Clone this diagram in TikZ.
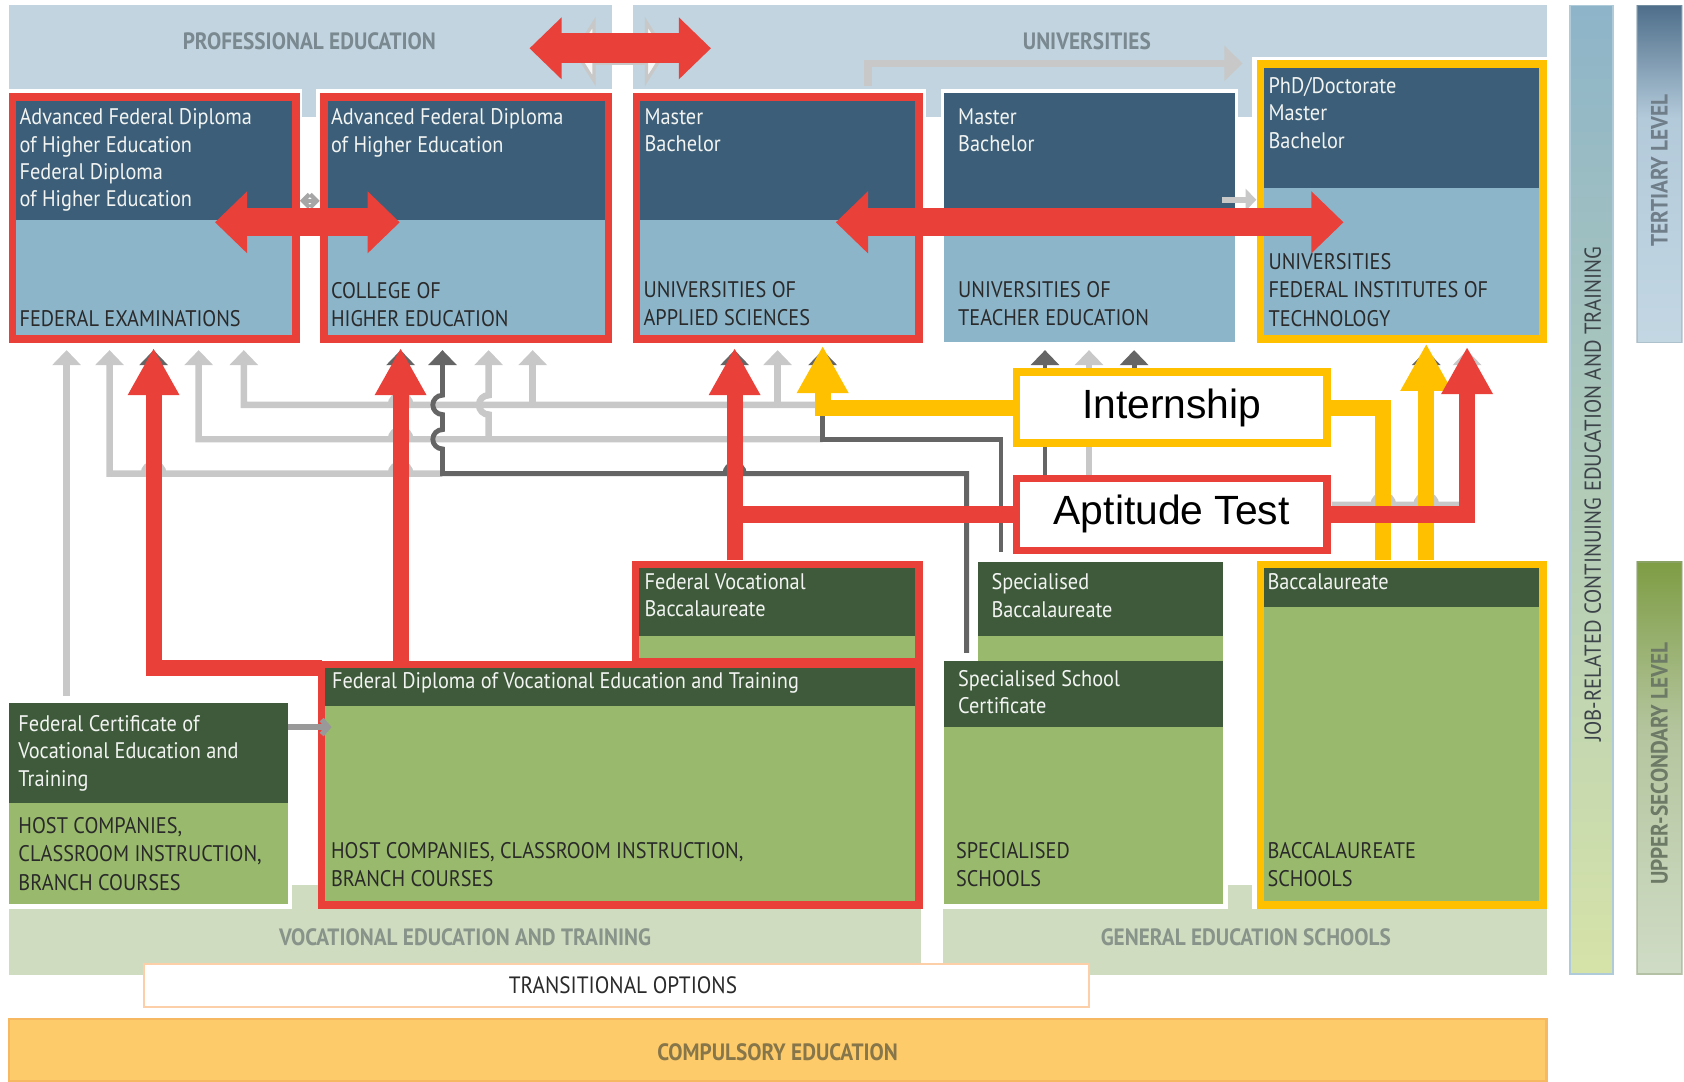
\documentclass[tikz,border=0pt]{standalone}
\usepackage{fontspec}
\setmainfont{PT Sans}
\newfontfamily\dinf{PT Sans}[FakeStretch=0.9]
\newfontfamily\arialf{Liberation Sans}
\usetikzlibrary{arrows.meta,fit}
\definecolor{bandblue}{HTML}{C1D4DF}
\definecolor{dblue}{HTML}{3C5E78}
\definecolor{lblue}{HTML}{8CB5CA}
\definecolor{redc}{HTML}{E9403A}
\definecolor{yel}{HTML}{FFC000}
\definecolor{dgreen}{HTML}{3E5A3A}
\definecolor{lgreen}{HTML}{99BA6C}
\definecolor{paleg}{HTML}{CFDCC0}
\definecolor{compf}{HTML}{FECB6A}
\definecolor{compb}{HTML}{F6B860}
\definecolor{transb}{HTML}{FCCFA9}
\definecolor{lgray}{HTML}{C8C8C8}
\definecolor{dgray}{HTML}{656565}
\definecolor{boxwhite}{HTML}{F2F4F2}
\definecolor{txtdark}{HTML}{2A2A2A}
\definecolor{bandtxtc}{HTML}{7A8890}
\definecolor{vettxt}{HTML}{88938A}
\definecolor{comptxt}{HTML}{867649}
\definecolor{jobtxt}{HTML}{3D4449}
\definecolor{tertxt}{HTML}{6F7E89}
\definecolor{uptxt}{HTML}{6C7A66}
\definecolor{jobtop}{HTML}{8DB4C9}
\definecolor{jobmid}{HTML}{B8CDB4}
\definecolor{jobbot}{HTML}{D6E3A8}
\definecolor{tertop}{HTML}{4E6E8A}
\definecolor{termid}{HTML}{B3CADA}
\definecolor{terbot}{HTML}{C3D7E3}
\definecolor{uptop}{HTML}{7E9D44}
\definecolor{upmid}{HTML}{B4C59E}
\definecolor{upbot}{HTML}{D0DCC6}
\begin{document}
\begin{tikzpicture}[x=1pt,y=-1pt,line join=miter,
  wtxt/.style={font=\dinf\fontsize{21}{25.4}\selectfont, text=boxwhite, anchor=north west, inner sep=0pt, align=left},
  dtxt/.style={font=\dinf\fontsize{21}{26.3}\selectfont, text=txtdark, anchor=north west, inner sep=0pt, align=left},
  bandtxt/.style={font=\dinf\bfseries\fontsize{22}{24}\selectfont, inner sep=0pt},
  boxname/.style={inner sep=0pt},
  lgarr/.style={draw=lgray, line width=6pt, arrows={-Triangle[width=26pt,length=14pt]}},
  dgarr/.style={draw=dgray, line width=4.5pt, arrows={-Triangle[width=26pt,length=14pt]}},
  redline/.style={draw=redc, line width=15pt},
  redarr/.style={redline, arrows={-Triangle[width=45pt,length=44pt]}},
  yelline/.style={draw=yel, line width=15pt},
  yelarr/.style={yelline, arrows={-Triangle[width=45pt,length=44pt]}},
  dblred/.style={draw=redc, arrows={Triangle[width=56pt,length=30pt]-Triangle[width=56pt,length=30pt]}}
]
\fill[white] (0,0) rectangle (1568,1007);
\useasboundingbox (0,0) rectangle (1568,1007);

% ---------- bands ----------
\fill[bandblue] (8,5) rectangle (570,83);
\fill[bandblue] (281,83) rectangle (294,109);
\fill[bandblue] (589,5) rectangle (1440,53);
\fill[bandblue] (589,53) rectangle (1166,83);
\fill[bandblue] (862,83) rectangle (876,109);
\fill[bandblue] (1153,83) rectangle (1166,109);
\fill[paleg] (8,846) rectangle (858,908);
\fill[paleg] (272,824) rectangle (296,846);
\fill[paleg] (878,846) rectangle (1440,908);
\fill[paleg] (1143,824) rectangle (1166,846);
\filldraw[fill=compf, draw=compb, line width=2pt] (8,949) rectangle (1440,1007);
\node[draw=transb, fill=white, line width=2pt, minimum width=880pt, minimum height=40pt, inner sep=0pt] (trans) at (574,917.5) {};

% right side bars
\shade[top color=jobtop, middle color=jobmid, bottom color=jobbot] (1462,5) rectangle (1502,907);
\draw[draw=jobtop!70!white, line width=1.5pt] (1462,5) rectangle (1502,907);
\shade[top color=tertop, bottom color=termid] (1524,5) rectangle (1566,110);
\shade[top color=termid, bottom color=terbot] (1524,110) rectangle (1566,319);
\draw[draw=termid!85!black, line width=1.5pt, opacity=0.5] (1524,5) rectangle (1566,319);
\shade[top color=uptop, bottom color=upmid] (1524,523) rectangle (1566,680);
\shade[top color=upmid, bottom color=upbot] (1524,680) rectangle (1566,907);
\draw[draw=upmid!85!black, line width=1.5pt, opacity=0.5] (1524,523) rectangle (1566,907);

% ---------- boxes ----------
% A
\fill[redc] (8,87) rectangle (279,319);
\fill[lblue] (15,94) rectangle (272,312);
\fill[dblue] (15,94) rectangle (272,205);
\node[boxname, fit={(8,87) (279,319)}] (A) {};
% B
\fill[redc] (298,87) rectangle (570,319);
\fill[lblue] (305,94) rectangle (563,312);
\fill[dblue] (305,94) rectangle (563,205);
\node[boxname, fit={(298,87) (570,319)}] (B) {};
% C
\fill[redc] (589,87) rectangle (859,319);
\fill[lblue] (596,94) rectangle (852,312);
\fill[dblue] (596,94) rectangle (852,205);
\node[boxname, fit={(589,87) (859,319)}] (C) {};
% D
\fill[lblue] (879,87) rectangle (1150,318);
\fill[dblue] (879,87) rectangle (1150,208);
\node[boxname, fit={(879,87) (1150,318)}] (D) {};
% E
\fill[yel] (1170,56) rectangle (1440,319);
\fill[lblue] (1177,63) rectangle (1433,312);
\fill[dblue] (1177,63) rectangle (1433,175);
\node[boxname, fit={(1170,56) (1440,319)}] (E) {};
% G
\fill[redc] (588,522) rectangle (859,620);
\fill[lgreen] (595,529) rectangle (852,613);
\fill[dgreen] (595,529) rectangle (852,592);
\node[boxname, fit={(588,522) (859,620)}] (G) {};
% F
\fill[redc] (296,615) rectangle (859,846);
\fill[lgreen] (303,622) rectangle (852,839);
\fill[dgreen] (303,622) rectangle (852,657);
\node[boxname, fit={(296,615) (859,846)}] (F) {};
% H
\fill[lgreen] (8,655) rectangle (268,842);
\fill[dgreen] (8,655) rectangle (268,748);
\node[boxname, fit={(8,655) (268,842)}] (H) {};
% I
\fill[lgreen] (911,523) rectangle (1139,615);
\fill[dgreen] (911,523) rectangle (1139,592);
\node[boxname, fit={(911,523) (1139,615)}] (I) {};
% J
\fill[lgreen] (879,615) rectangle (1139,842);
\fill[dgreen] (879,615) rectangle (1139,677);
\node[boxname, fit={(879,615) (1139,842)}] (J) {};
% K
\fill[yel] (1170,522) rectangle (1440,846);
\fill[lgreen] (1177,529) rectangle (1433,839);
\fill[dgreen] (1177,529) rectangle (1433,565);
\node[boxname, fit={(1170,522) (1440,846)}] (K) {};

% ---------- texts ----------
\node[bandtxt, text=bandtxtc] (profT) at (288,38) {PROFESSIONAL EDUCATION};
\node[bandtxt, text=bandtxtc] (uniT) at (1012,38) {UNIVERSITIES};
\node[bandtxt, text=vettxt] (vetT) at (433,873) {VOCATIONAL EDUCATION AND TRAINING};
\node[bandtxt, text=vettxt] (genT) at (1160,873) {GENERAL EDUCATION SCHOOLS};
\node[font=\dinf\fontsize{22}{24}\selectfont, text=txtdark, inner sep=0pt] (transT) at (580,917) {TRANSITIONAL OPTIONS};
\node[bandtxt, text=comptxt] (compT) at (724,980) {COMPULSORY EDUCATION};
\node[rotate=90, font=\dinf\fontsize{21.5}{22}\selectfont, text=jobtxt, inner sep=0pt] (jobT) at (1483,460) {JOB-RELATED CONTINUING EDUCATION AND TRAINING};
\node[rotate=90, font=\dinf\bfseries\fontsize{22}{22}\selectfont, text=tertxt, inner sep=0pt] (terT) at (1545,159) {TERTIARY LEVEL};
\node[rotate=90, font=\dinf\bfseries\fontsize{22}{22}\selectfont, text=uptxt, inner sep=0pt] (upT) at (1545,711) {UPPER-SECONDARY LEVEL};

\node[wtxt] (Aw) at (18,101) {Advanced Federal Diploma\\of Higher Education\\Federal Diploma\\of Higher Education};
\node[dtxt] (Ad) at (18,289) {FEDERAL EXAMINATIONS};
\node[wtxt] (Bw) at (308,101) {Advanced Federal Diploma\\of Higher Education};
\node[dtxt] (Bd) at (308,263) {COLLEGE OF\\HIGHER EDUCATION};
\node[wtxt] (Cw) at (600,101) {Master\\Bachelor};
\node[dtxt] (Cd) at (599,262) {UNIVERSITIES OF\\APPLIED SCIENCES};
\node[wtxt] (Dw) at (892,101) {Master\\Bachelor};
\node[dtxt] (Dd) at (892,262) {UNIVERSITIES OF\\TEACHER EDUCATION};
\node[wtxt] (Ew) at (1181,72) {PhD/Doctorate\\Master\\Bachelor};
\node[dtxt] (Ed) at (1181,236) {UNIVERSITIES\\FEDERAL INSTITUTES OF\\TECHNOLOGY};
\node[wtxt] (Gw) at (600,534) {Federal Vocational\\Baccalaureate};
\node[wtxt] (Fw) at (309,626) {Federal Diploma of Vocational Education and Training};
\node[dtxt] (Fd) at (308,784) {HOST COMPANIES, CLASSROOM INSTRUCTION,\\BRANCH COURSES};
\node[wtxt] (Hw) at (17,666) {Federal Certificate of\\Vocational Education and\\Training};
\node[dtxt] (Hd) at (17,761) {HOST COMPANIES,\\CLASSROOM INSTRUCTION,\\BRANCH COURSES};
\node[wtxt] (Iw) at (923,534) {Specialised\\Baccalaureate};
\node[wtxt] (Jw) at (892,624) {Specialised School\\Certificate};
\node[dtxt] (Jd) at (890,784) {SPECIALISED\\SCHOOLS};
\node[wtxt] (Kw) at (1180,534) {Baccalaureate};
\node[dtxt] (Kd) at (1180,784) {BACCALAUREATE\\SCHOOLS};

% ---------- named arrow tips / junctions ----------
\foreach \x in {62,102,143,185,227,373,412,455,496,684,724,766,973,1014,1056,1328,1366}
  \coordinate (t\x) at (\x,326);
\coordinate (tr143) at (143,324);
\coordinate (tr373) at (373,324);
\coordinate (tr684) at (684,324);
\coordinate (tr766) at (766,322);
\coordinate (tr1328) at (1328,320);
\coordinate (tr1366) at (1366,323);

% small gray arrows
\draw[draw=lgray, line width=7pt, arrows={-Triangle[width=32pt,length=17pt]}] (808,80) |- (1157,59);
\draw[draw=gray!70, line width=4pt, arrows={Straight Barb[length=6pt,width=12pt]-Straight Barb[length=6pt,width=12pt]}] (A.east |- 0,187) -- (B.west |- 0,187);
\draw[draw=lgray, line width=6pt, arrows={-Triangle[width=20pt,length=10pt]}] (1138,186) -- (E.west |- 0,186);
\draw[draw=gray!80, line width=5pt, arrows={-Straight Barb[length=6pt,width=14pt]}] (H.east |- 0,677) -- ([xshift=13pt]F.west |- 0,677);

% ---------- gray connectors ----------
\draw[lgarr] ([yshift=7pt]H.north -| t62) -- (t62);
\draw[lgarr] (412,441) -- (382,441) arc(0:-180:9) -- (152,441) arc(0:-180:9) -- (102,441) -- (t102);
\draw[lgarr] (766,409) -- (382,409) arc(0:-180:9) -- (185,409) -- (t185);
\draw[lgarr] (766,377) -- (382,377) arc(0:-180:9) -- (227,377) -- (t227);
\draw[lgarr] (455,409) -- (455,386) arc(90:270:9) -- (t455);
\draw[lgarr] (496,377) -- (t496);
\draw[lgarr] (724,377) -- (t724);
\draw[lgarr] (1014,445) -- (t1014);
\draw[lgarr] (1240,470) -- (1279,470) arc(180:360:9) -- (1319,470) arc(180:360:9) -- (1366,470) -- (t1366);

\draw[dgarr] ([yshift=7pt]J.north -| 900,0) -- (900,441) -- (693,441) arc(0:-180:9) -- (412,441) -- (412,418) arc(90:270:9) -- (412,386) arc(90:270:9) -- (t412);
\draw[dgarr] ([yshift=9pt]I.north -| 932,0) -- (932,409) -- (766,409) -- (t766);
\draw[dgarr] (973,445) -- (t973);
\foreach \x in {143,373,684,1056,1328}
  \draw[dgarr] (\x,346) -- (t\x);

% ---------- red / yellow connectors ----------
\draw[redarr] ([xshift=4pt]F.north west |- 0,622) -| (tr143);
\draw[redarr] (F.north -| tr373) ++(0,7) -- (tr373);
\draw[redarr] (G.north -| tr684) -- (tr684);
\draw[yelarr] (K.north -| tr1328) -- (tr1328);

\node[draw=yel, line width=7pt, fill=white, minimum width=289pt, minimum height=66pt, inner sep=0pt, font=\arialf\fontsize{38}{40}\selectfont] (intern) at (1091,379.5) {Internship};
\node[draw=redc, line width=7pt, fill=white, minimum width=289pt, minimum height=67pt, inner sep=0pt, font=\arialf\fontsize{38}{40}\selectfont] (apt) at (1091,479) {Aptitude Test};

\draw[yelarr] (intern.west) -| (tr766);
\draw[yelline] (intern.east) -| (K.north -| 1288,0);
\draw[redline] (apt.west) -- (apt.west -| tr684);
\draw[redarr] (apt.east) -| (tr1366);

% ---------- big double arrows ----------
\filldraw[fill=white!94!gray, draw=lgray, line width=3pt] (536,48) -- (553,21) -- (553,37) -- (602,37) -- (602,21) -- (619,48) -- (602,75) -- (602,59) -- (553,59) -- (553,75) -- cycle;
\draw[dblred, line width=28pt] (493,45) -- (662,45);
\draw[dblred, line width=26pt] (A.east |- 0,207) ++(-79,0) -- ++(172,0);
\draw[dblred, line width=26pt] (C.east |- 0,207) ++(-81,0) -- (1251,207);
\end{tikzpicture}
\end{document}
